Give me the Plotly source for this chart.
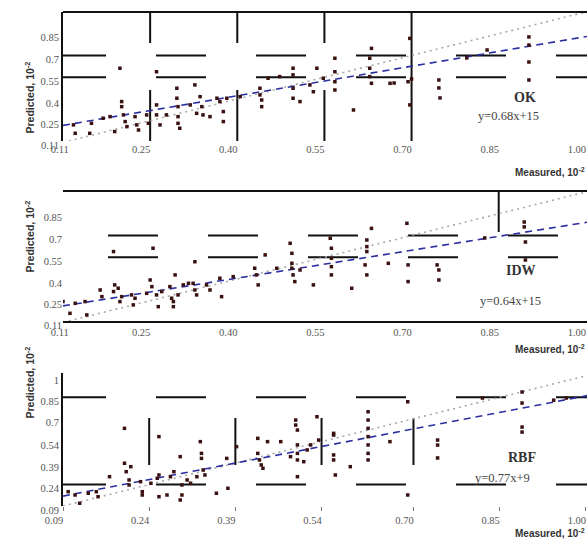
import plotly.graph_objects as go

# ---------------- data ----------------
ok_x = [0.118,0.121,0.146,0.149,0.169,0.181,0.189,0.201,0.201,0.204,0.207,0.210,0.224,0.227,0.230,
        0.244,0.247,0.261,0.261,0.267,0.278,0.296,0.296,0.298,0.298,0.298,0.301,0.319,0.327,0.330,
        0.336,0.339,0.341,0.353,0.365,0.370,0.376,0.376,0.382,0.405,0.439,0.439,0.442,0.442,0.453,
        0.473,0.496,0.496,0.496,0.496,0.508,0.525,0.531,0.537,0.548,0.568,0.568,0.568,0.568,0.600,
        0.631,0.628,0.628,0.628,0.631,0.663,0.697,0.697,0.694,0.198,0.261,0.670,0.700,0.747,0.747,
        0.749,0.795,0.830,0.902,0.902,0.902,0.902]
ok_y = [0.221,0.163,0.163,0.232,0.267,0.278,0.175,0.382,0.347,0.290,0.244,0.209,0.278,0.221,0.186,
        0.290,0.232,0.359,0.290,0.221,0.290,0.474,0.405,0.347,0.278,0.232,0.198,0.359,0.497,0.301,
        0.416,0.347,0.290,0.278,0.405,0.382,0.313,0.244,0.405,0.416,0.474,0.428,0.393,0.347,0.543,
        0.554,0.612,0.566,0.474,0.405,0.382,0.497,0.450,0.612,0.543,0.681,0.588,0.519,0.462,0.324,
        0.749,0.681,0.612,0.554,0.508,0.508,0.818,0.359,0.519,0.612,0.588,0.510,0.538,0.531,0.476,
        0.407,0.683,0.738,0.828,0.772,0.655,0.531]

idw_x = [0.100,0.112,0.121,0.138,0.141,0.164,0.167,0.187,0.189,0.195,0.198,0.201,0.218,0.221,0.224,
         0.244,0.250,0.253,0.261,0.264,0.270,0.284,0.287,0.290,0.290,0.293,0.298,0.307,0.316,0.324,
         0.327,0.330,0.327,0.347,0.353,0.370,0.373,0.393,0.430,0.433,0.436,0.448,0.468,0.491,0.494,
         0.494,0.494,0.496,0.499,0.508,0.531,0.560,0.562,0.562,0.562,0.562,0.597,0.623,0.623,0.623,
         0.620,0.623,0.631,0.660,0.692,0.694,0.694,0.187,0.255,0.744,0.747,0.747,0.826,0.894,0.894,
         0.896,0.896]
idw_y = [0.244,0.163,0.232,0.244,0.152,0.324,0.278,0.313,0.359,0.336,0.244,0.278,0.290,0.221,0.267,
         0.301,0.393,0.347,0.290,0.209,0.313,0.347,0.267,0.244,0.209,0.428,0.290,0.359,0.370,0.370,
         0.324,0.290,0.519,0.359,0.324,0.405,0.278,0.416,0.474,0.428,0.359,0.566,0.474,0.646,0.577,
         0.508,0.474,0.428,0.382,0.462,0.359,0.681,0.612,0.543,0.485,0.428,0.336,0.669,0.623,0.589,
         0.497,0.428,0.749,0.508,0.784,0.497,0.382,0.589,0.612,0.497,0.462,0.393,0.683,0.793,0.759,
         0.655,0.531]

rbf_x = [0.099,0.111,0.119,0.134,0.148,0.151,0.171,0.197,0.197,0.200,0.205,0.205,0.208,0.225,0.228,
         0.228,0.243,0.254,0.257,0.257,0.257,0.271,0.277,0.283,0.294,0.297,0.297,0.306,0.312,0.323,
         0.329,0.331,0.331,0.334,0.337,0.357,0.375,0.377,0.392,0.429,0.429,0.432,0.435,0.438,0.446,
         0.469,0.486,0.495,0.495,0.498,0.498,0.498,0.498,0.498,0.509,0.515,0.521,0.532,0.535,0.561,
         0.561,0.561,0.561,0.564,0.590,0.621,0.621,0.621,0.621,0.621,0.621,0.621,0.659,0.690,0.690,
         0.294,0.742,0.742,0.742,0.820,0.889,0.889,0.889,0.889,0.944,0.966]
rbf_y = [0.190,0.167,0.109,0.179,0.190,0.155,0.295,0.633,0.389,0.330,0.272,0.237,0.365,0.260,0.190,
         0.167,0.249,0.284,0.575,0.307,0.155,0.167,0.295,0.330,0.435,0.237,0.167,0.272,0.249,0.295,
         0.540,0.458,0.423,0.342,0.307,0.179,0.423,0.214,0.505,0.563,0.458,0.412,0.377,0.354,0.540,
         0.540,0.435,0.691,0.656,0.621,0.517,0.458,0.412,0.295,0.400,0.482,0.517,0.714,0.551,0.598,
         0.586,0.447,0.412,0.307,0.365,0.749,0.691,0.633,0.575,0.517,0.458,0.412,0.540,0.819,0.167,
         0.132,0.551,0.516,0.426,0.845,0.887,0.810,0.642,0.607,0.830,0.845]

methods = ["OK", "IDW", "RBF"]
slopes = [0.68, 0.64, 0.77]
intercepts = [0.15, 0.15, 0.09]
equations = ["y=0.68x+15", "y=0.64x+15", "y=0.77x+9"]

x_ticks_ok_idw = [0.11, 0.25, 0.40, 0.55, 0.70, 0.85, 1.00]
x_labels_ok_idw = ["0.11", "0.25", "0.40", "0.55", "0.70", "0.85", "1.00"]
y_ticks_ok_idw = [0.11, 0.25, 0.40, 0.55, 0.70, 0.85]
y_labels_ok_idw = ["0.11", "0.25", "0.4", "0.55", "0.7", "0.85"]
x_ticks_rbf = [0.09, 0.24, 0.39, 0.54, 0.70, 0.85, 1.00]
x_labels_rbf = ["0.09", "0.24", "0.39", "0.54", "0.70", "0.85", "1.00"]
y_ticks_rbf = [0.09, 0.24, 0.39, 0.54, 0.70, 0.85, 1.00]
y_labels_rbf = ["0.09", "0.24", "0.39", "0.54", "0.7", "0.85", "1"]

# ---------------- styling ----------------
W, H = 587, 540
XDOM = [63 / W, 1.0]
YDOMS = [[1 - 141 / H, 1 - 12 / H], [1 - 321 / H, 1 - 192 / H], [1 - 506 / H, 1 - 373 / H]]
XRANGES = [[0.10, 1.002], [0.10, 1.002], [0.09, 1.002]]
YRANGES = [[0.11, 1.00], [0.11, 1.00], [0.09, 1.02]]
PT_COLOR = "#3a1010"
REG_COLOR = "#2b2fa0"
ONE_COLOR = "#a8a8a8"
GRID_COLOR = "#111111"
TICKFONT = dict(family="Liberation Serif", size=10.5, color="#555555")

fig = go.Figure()
xs_all = [ok_x, idw_x, rbf_x]
ys_all = [ok_y, idw_y, rbf_y]

for i in range(3):
    xa = "x" if i == 0 else f"x{i+1}"
    ya = "y" if i == 0 else f"y{i+1}"
    x0, x1 = XRANGES[i]
    fig.add_trace(go.Scatter(x=[x0, x1], y=[x0, x1], mode="lines", xaxis=xa, yaxis=ya,
                             line=dict(color=ONE_COLOR, width=1.6, dash="2px,4px"),
                             showlegend=False, hoverinfo="skip"))
    fig.add_trace(go.Scatter(x=[x0, x1],
                             y=[slopes[i] * x0 + intercepts[i], slopes[i] * x1 + intercepts[i]],
                             mode="lines", xaxis=xa, yaxis=ya,
                             line=dict(color=REG_COLOR, width=1.6, dash="7px,5px"),
                             showlegend=False, hoverinfo="skip"))
    fig.add_trace(go.Scatter(x=xs_all[i], y=ys_all[i], mode="markers", xaxis=xa, yaxis=ya,
                             marker=dict(color=PT_COLOR, size=3.5, symbol="square"),
                             showlegend=False, name=methods[i]))

layout = dict(template="none", width=W, height=H, margin=dict(l=0, r=0, t=0, b=0, pad=0),
              paper_bgcolor="white", plot_bgcolor="white")

xticks = [(x_ticks_ok_idw, x_labels_ok_idw), (x_ticks_ok_idw, x_labels_ok_idw), (x_ticks_rbf, x_labels_rbf)]
yticks = [(y_ticks_ok_idw, y_labels_ok_idw), (y_ticks_ok_idw, y_labels_ok_idw), (y_ticks_rbf, y_labels_rbf)]
x_showline = [False, True, False]
y_showline = [True, False, True]

for i in range(3):
    xk = "xaxis" if i == 0 else f"xaxis{i+1}"
    yk = "yaxis" if i == 0 else f"yaxis{i+1}"
    ya = "y" if i == 0 else f"y{i+1}"
    xa = "x" if i == 0 else f"x{i+1}"
    layout[xk] = dict(domain=XDOM, anchor=ya, range=XRANGES[i], showgrid=False, zeroline=False,
                      automargin=False,
                      tickvals=xticks[i][0], ticktext=xticks[i][1], tickfont=TICKFONT,
                      showline=x_showline[i], mirror=(i == 1), linecolor=GRID_COLOR, linewidth=2,
                      ticks="outside" if i == 2 else "", ticklen=4, tickcolor="#777777", tickwidth=1,
                      ticklabelshift=-9)
    layout[yk] = dict(domain=YDOMS[i], anchor=xa, range=YRANGES[i], showgrid=False, zeroline=False,
                      automargin=False,
                      tickvals=yticks[i][0], ticktext=yticks[i][1], tickfont=TICKFONT,
                      showline=y_showline[i], linecolor=GRID_COLOR, linewidth=2, ticks="",
                      ticklabelshift=4)

fig.update_layout(**layout)

# ---------------- grid segments (decorative, at tick values) ----------------
PAT_A = "43px,50px,50px,50px,50px,50px,50px,50px,50px,50px,50px,50px,50px,50px"
PAT_B = "0px,45px,50px,50px,50px,50px,50px,50px,50px,50px,50px,50px,50px,50px"
grid_h = [([0.55, 0.70], PAT_A), ([0.55, 0.70], PAT_B), ([0.85, 0.24], PAT_A)]
grid_v = [[([0.25, 0.40, 0.55], "31px,47px,300px"), ([0.70], "solid")],
          [([0.85], "40px,400px")],
          [([0.24, 0.39, 0.54, 0.70], "0px,45px,47px,400px")]]

shapes = []
for i in range(3):
    xa = "x" if i == 0 else f"x{i+1}"
    ya = "y" if i == 0 else f"y{i+1}"
    vals, pat = grid_h[i]
    for v in vals:
        shapes.append(dict(type="line", xref=f"{xa} domain", yref=ya, x0=0, x1=1, y0=v, y1=v,
                           line=dict(color=GRID_COLOR, width=2, dash=pat), layer="below"))
    for vals, pat in grid_v[i]:
        for v in vals:
            shapes.append(dict(type="line", xref=xa, yref=f"{ya} domain", x0=v, x1=v, y0=1, y1=0,
                               line=dict(color=GRID_COLOR, width=2, dash=pat), layer="below"))
shapes.append(dict(type="line", xref="x domain", yref="y domain", x0=0, x1=1, y0=1, y1=1,
                   line=dict(color=GRID_COLOR, width=2)))
fig.update_layout(shapes=shapes)

# ---------------- text ----------------
name_pos = [(0.906, 0.341), (0.906, 0.318), (0.906, 0.293)]
eq_pos = [(0.912, 0.124), (0.916, 0.085), (0.895, 0.143)]
meas_y = [1 - 172 / H, 1 - 349 / H, 1 - 533 / H]
pred_y = [1 - 60 / H, 1 - 237 / H, 1 - 421 / H]
ann = []
for i in range(3):
    xa = "x" if i == 0 else f"x{i+1}"
    ya = "y" if i == 0 else f"y{i+1}"
    ann.append(dict(text=f"<b>{methods[i]}</b>", xref=f"{xa} domain", yref=f"{ya} domain",
                    x=name_pos[i][0], y=name_pos[i][1], showarrow=False,
                    font=dict(family="Liberation Serif", size=14, color="#333333")))
    ann.append(dict(text=equations[i], xref=f"{xa} domain", yref=f"{ya} domain",
                    x=eq_pos[i][0], y=eq_pos[i][1], showarrow=False,
                    font=dict(family="Liberation Serif", size=12.5, color="#444444")))
    ann.append(dict(text="<b>Measured, 10<sup>-2</sup></b>", xref="paper", yref="paper",
                    x=1.0, y=meas_y[i], xanchor="right", yanchor="middle", showarrow=False,
                    font=dict(family="Liberation Sans", size=10, color="#333333")))
    ann.append(dict(text="<b>Predicted, 10<sup>-2</sup></b>", xref="paper", yref="paper",
                    x=20 / W, y=pred_y[i], textangle=-90, showarrow=False,
                    font=dict(family="Liberation Sans", size=10.5, color="#333333")))
fig.update_layout(annotations=ann)

fig.write_html("out.html", config={"displayModeBar": False},
               post_script="document.body.style.margin='0';document.body.style.overflow='hidden';")
